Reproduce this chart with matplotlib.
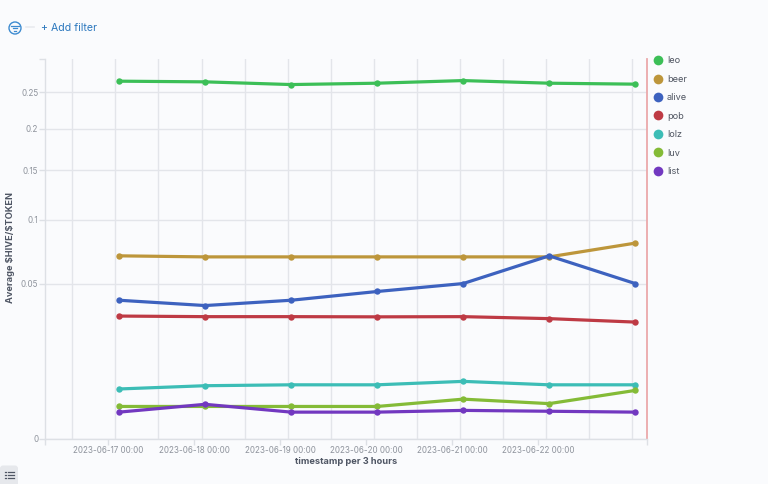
import matplotlib
matplotlib.use('Agg')
import matplotlib.pyplot as plt
from matplotlib.ticker import NullLocator
import numpy as np
import pandas as pd
from matplotlib.patches import Circle, FancyBboxPatch

timestamps = ['2023-06-17 03:00', '2023-06-18 03:00', '2023-06-19 03:00', '2023-06-20 03:00',
              '2023-06-21 03:00', '2023-06-22 03:00', '2023-06-23 03:00']
leo = [0.2660, 0.2650, 0.2610, 0.2630, 0.2669, 0.2630, 0.2616]
beer = [0.0697, 0.0689, 0.0689, 0.0689, 0.0689, 0.0689, 0.0797]
alive = [0.0400, 0.0370, 0.0400, 0.0452, 0.0502, 0.0697, 0.0502]
pob = [0.0314, 0.0311, 0.0311, 0.0310, 0.0311, 0.0301, 0.0284]
lolz = [0.0052, 0.0059, 0.0061, 0.0061, 0.0069, 0.0061, 0.0061]
luv = [0.0022, 0.0022, 0.0022, 0.0022, 0.0033, 0.0026, 0.0049]
list_ = [0.0015, 0.0025, 0.0015, 0.0015, 0.0017, 0.0016, 0.0015]

series_names = ['leo', 'beer', 'alive', 'pob', 'lolz', 'luv', 'list']
series_values = [leo, beer, alive, pob, lolz, luv, list_]
series_colors = ['#3CBF57', '#BD963B', '#3D62BF', '#BE3A44', '#3CBDB6', '#84BB37', '#7238C0']

y_ticks = [0, 0.05, 0.1, 0.15, 0.2, 0.25, 0.3]
y_labels = ['0', '0.05', '0.1', '0.15', '0.2', '0.25', '']
x_tick_dates = ['2023-06-17 00:00', '2023-06-18 00:00', '2023-06-19 00:00',
                '2023-06-20 00:00', '2023-06-21 00:00', '2023-06-22 00:00']

W, H = 768, 484
BG = '#FAFBFD'
GRID = '#E3E5EA'
TICK_TEXT = '#8E939C'
DARK = '#4F5664'

plt.rcParams['font.family'] = ['Inter', 'DejaVu Sans']

fig = plt.figure(figsize=(W / 100, H / 100), dpi=100, facecolor=BG)
ax = fig.add_axes([45.3 / W, 1 - 439 / H, (647 - 45.3) / W, 380 / H], facecolor=BG)

ax.set_yscale('function', functions=(np.sqrt, np.square))

times = pd.to_datetime(timestamps)
for name, values, color in zip(series_names, series_values, series_colors):
  ax.plot(times, values, color=color, lw=2.3, marker='o', ms=4.6, mew=0, label=name,
          solid_capstyle='round', zorder=3, clip_on=False)

x_left = pd.Timestamp('2023-06-16 06:25')
x_right = pd.Timestamp('2023-06-23 06:18')
ax.set_xlim(x_left, x_right)
ax.set_ylim(0, 0.3)

# labelled ticks plus the bare ones at both ends of the axis
ax.set_xticks(list(pd.to_datetime(x_tick_dates)) + [x_left, x_right])
ax.set_xticklabels(x_tick_dates + ['', ''])
ax.set_xticks(pd.date_range('2023-06-16 14:00', '2023-06-23 03:00', freq='12h'), minor=True)
ax.set_yticks(y_ticks)
ax.set_yticklabels(y_labels)
ax.yaxis.set_minor_locator(NullLocator())

ax.grid(True, which='minor', axis='x', color=GRID, lw=1)
ax.grid(True, which='major', axis='y', color=GRID, lw=1)
ax.get_ygridlines()[-1].set_visible(False)
ax.set_axisbelow(True)
ax.tick_params(axis='x', which='minor', length=0)
ax.tick_params(axis='both', which='major', length=4, width=1, color='#DDE0E5',
               labelcolor=TICK_TEXT, labelsize=5.8, pad=1.0)

for side in ['top', 'right']:
  ax.spines[side].set_visible(False)
for side in ['left', 'bottom']:
  ax.spines[side].set_color('#DDE0E5')
  ax.spines[side].set_linewidth(1)

ax.axvline(x_right, color='#EBA9AB', lw=1.3, zorder=2, clip_on=False)

fig.text(346.5 / W, 1 - 462 / H, 'timestamp per 3 hours', ha='center', va='center',
         fontsize=6.65, fontweight='bold', color=DARK)
fig.text(10.5 / W, 1 - 247.5 / H, 'Average \\$HIVE/\\$TOKEN', ha='center', va='center',
         rotation=90, fontsize=6.65, fontweight='bold', color=DARK)

handles, labels = ax.get_legend_handles_labels()
legend_handles = [plt.Line2D([], [], ls='', marker='o', ms=7.0, mew=0, color=h.get_color()) for h in handles]
ax.legend(legend_handles, labels, loc='upper left', bbox_to_anchor=(653.9 / W, 1 - 56.3 / H),
          bbox_transform=fig.transFigure, frameon=False, fontsize=6.6, labelcolor='#505662',
          handlelength=0.9, handletextpad=0.53, labelspacing=1.03, borderpad=0, borderaxespad=0)

# kibana chrome above and below the chart, in pixel coordinates
chrome = fig.add_axes([0, 0, 1, 1], facecolor='none', zorder=5)
chrome.set_xlim(0, W)
chrome.set_ylim(H, 0)
chrome.axis('off')
chrome.text(41, 28, '+ Add filter', color='#2C78BE', fontsize=7.6, va='center', ha='left')
chrome.add_patch(Circle((15, 28), 6, fill=False, ec='#3D8BD0', lw=1))
for half, y in [(3.6, 25.9), (2.3, 28.2), (0.9, 30.5)]:
  chrome.plot([15 - half, 15 + half], [y, y], color='#3D8BD0', lw=0.9)
chrome.plot([26, 33.5], [27, 27], color='#E9EBEF', lw=1.2)
chrome.add_patch(FancyBboxPatch((0, 465.5), 18, 24, boxstyle='round,pad=0,rounding_size=3',
                                fc='#E6E8EC', ec='none'))
for y in [471.5, 474.7, 478]:
  chrome.plot([5, 6.2], [y, y], color='#4F5664', lw=0.9)
  chrome.plot([7.5, 13.5], [y, y], color='#4F5664', lw=0.9)

fig.savefig('out.png', dpi=100, facecolor=BG)
